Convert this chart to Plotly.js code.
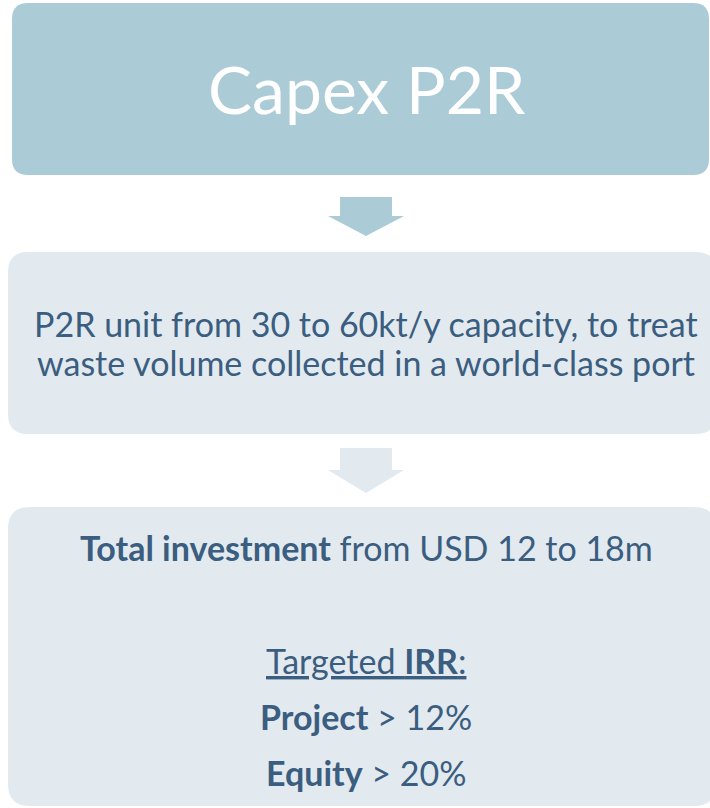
<!DOCTYPE html>
<html>
<head>
<meta charset="utf-8">
<script src="https://cdn.plot.ly/plotly-3.0.1.min.js"></script>
<style>
  html, body { margin: 0; padding: 0; background: #ffffff; }
  #chart { width: 710px; height: 808px; }
</style>
</head>
<body>
<div id="chart"></div>
<script>
// ---- content ----
var headerTitle = "Capex P2R";
var descriptionLines = [
  "P2R unit from 30 to 60kt/y capacity, to treat",
  "waste volume collected in a world-class port"
];
var investmentLabel = "Total investment";
var investmentText = " from USD 12 to 18m";
var irrHeading = ["Targeted ", "IRR", ":"];
var irrLabels = ["Project", "Equity"];
var irrValues = ["> 12%", "> 20%"];

// ---- layout (pixel-like coordinates, y downward) ----
var W = 710, H = 808;
var darkFill = "#abccd6";
var lightFill = "#e2eaef";
var textColor = "#3a5d80";
var fontFam = "Lato, 'Open Sans', sans-serif";

function roundRect(x0, y0, x1, y1, r) {
  return "M" + (x0 + r) + "," + y0 +
    " L" + (x1 - r) + "," + y0 +
    " Q" + x1 + "," + y0 + " " + x1 + "," + (y0 + r) +
    " L" + x1 + "," + (y1 - r) +
    " Q" + x1 + "," + y1 + " " + (x1 - r) + "," + y1 +
    " L" + (x0 + r) + "," + y1 +
    " Q" + x0 + "," + y1 + " " + x0 + "," + (y1 - r) +
    " L" + x0 + "," + (y0 + r) +
    " Q" + x0 + "," + y0 + " " + (x0 + r) + "," + y0 + " Z";
}
function downArrow(cx, yTop, bodyHalf, headHalf, yHead, yTip) {
  return "M" + (cx - bodyHalf) + "," + yTop +
    " L" + (cx + bodyHalf) + "," + yTop +
    " L" + (cx + bodyHalf) + "," + yHead +
    " L" + (cx + headHalf) + "," + yHead +
    " L" + cx + "," + yTip +
    " L" + (cx - headHalf) + "," + yHead +
    " L" + (cx - bodyHalf) + "," + yHead + " Z";
}

var shapes = [
  {type: "path", path: roundRect(12, 3, 709, 175, 16), fillcolor: darkFill, line: {width: 0}, layer: "below"},
  {type: "path", path: downArrow(366, 197, 26, 38, 216, 236), fillcolor: darkFill, line: {width: 0}, layer: "below"},
  {type: "path", path: roundRect(8, 252, 716, 434, 20), fillcolor: lightFill, line: {width: 0}, layer: "below"},
  {type: "path", path: downArrow(366, 448, 26, 38, 470, 493), fillcolor: lightFill, line: {width: 0}, layer: "below"},
  {type: "path", path: roundRect(8, 507, 716, 806, 22), fillcolor: lightFill, line: {width: 0}, layer: "below"}
];
shapes.forEach(function (s) { s.xref = "x"; s.yref = "y"; });

var cx = 366;
function ann(text, y, size, color) {
  return {x: cx, y: y, xref: "x", yref: "y", text: text, showarrow: false,
          xanchor: "center", yanchor: "middle",
          font: {family: fontFam, size: size, color: color}};
}
var annotations = [
  ann(headerTitle, 88, 66, "#ffffff"),
  ann(descriptionLines[0], 323, 34, textColor),
  ann(descriptionLines[1], 362, 34, textColor),
  ann("<b>" + investmentLabel + "</b>" + investmentText, 547, 34, textColor),
  ann("<u>" + irrHeading[0] + "<b>" + irrHeading[1] + "</b>" + irrHeading[2] + "</u>", 660, 34, textColor),
  ann("<b>" + irrLabels[0] + "</b> " + irrValues[0], 716, 34, textColor),
  ann("<b>" + irrLabels[1] + "</b> " + irrValues[1], 772, 34, textColor)
];

var layout = {
  width: W, height: H,
  margin: {l: 0, r: 0, t: 0, b: 0, pad: 0},
  paper_bgcolor: "#ffffff", plot_bgcolor: "#ffffff",
  xaxis: {range: [0, W], visible: false, fixedrange: true},
  yaxis: {range: [H, 0], visible: false, fixedrange: true},
  showlegend: false,
  shapes: shapes,
  annotations: annotations
};

Plotly.newPlot("chart", [], layout, {displayModeBar: false, staticPlot: true});
</script>
</body>
</html>
